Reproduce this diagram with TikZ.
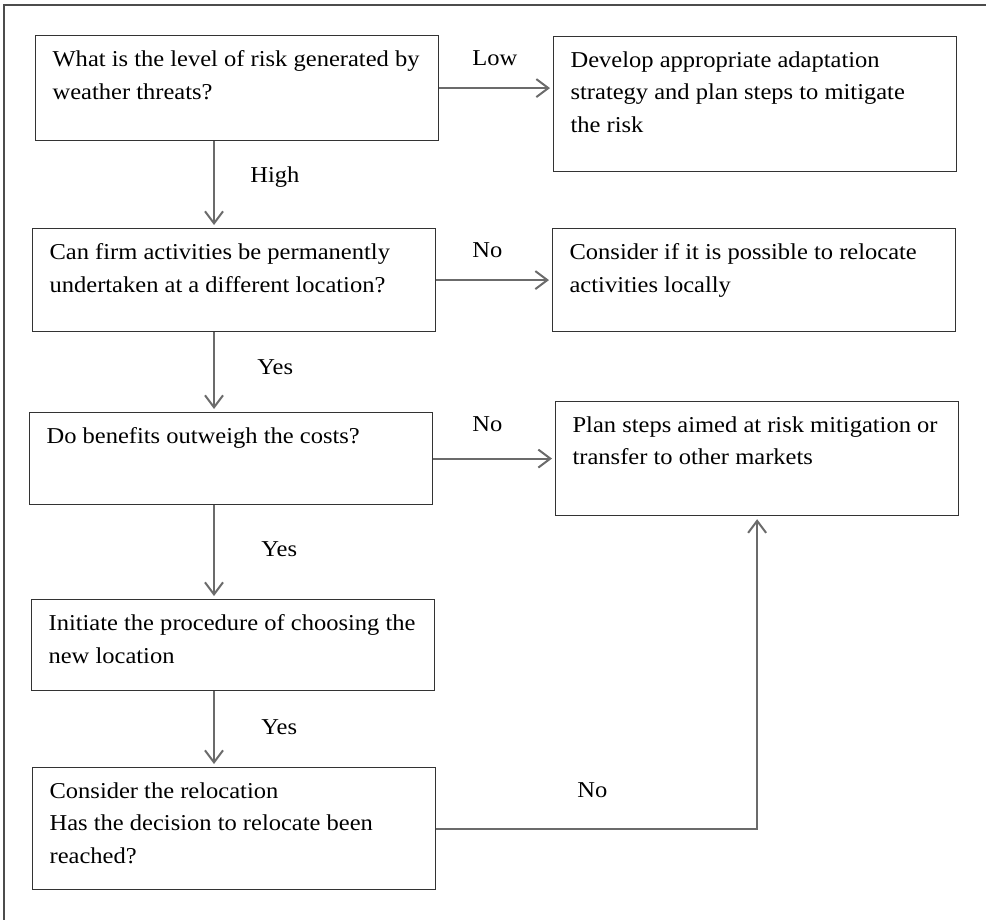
\documentclass[tikz,border=0pt]{standalone}
\usepackage{fontspec}
\setmainfont[FakeStretch=1.08]{Liberation Serif}
\usetikzlibrary{arrows.meta}
\newcommand{\boxtext}[2]{\parbox[c][#1][t]{184.5pt}{\raggedright #2}}

\begin{document}
\begin{tikzpicture}[
		x=0.5pt, y=-0.5pt,
		every node/.style={font=\fontsize{11.35}{16.25}\selectfont},
		stage/.style={draw=black!80, line width=0.6pt, anchor=north west, inner xsep=8.5pt, inner ysep=7.5pt},
		answer/.style={anchor=base west, inner sep=0pt},
		flow/.style={draw=black!58, line width=1pt, -{Straight Barb[length=6pt,width=9pt]}, shorten >=1.5pt},
		frame/.style={draw=black!70, line width=0.6pt},
		]
		\useasboundingbox (0,0) rectangle (986,920);
		\draw [frame] (4,920) -- (4,5) -- (986,5);
		\coordinate (spine) at (214,0);

		\node [stage] (risk) at (35,35) {\boxtext{37.5pt}{What is the level of risk generated by\\weather threats?}};
		\node [stage] (adapt) at (553,36) {\boxtext{52.5pt}{Develop appropriate adaptation\\strategy and plan steps to mitigate\\the risk}};
		\node [stage] (firm) at (32,228) {\boxtext{36.5pt}{Can firm activities be permanently\\undertaken at a different location?}};
		\node [stage] (local) at (552,228) {\boxtext{36.5pt}{Consider if it is possible to relocate\\activities locally}};
		\node [stage] (benefit) at (29,412) {\boxtext{31pt}{Do benefits outweigh the costs?}};
		\node [stage] (mitig) at (555,401) {\boxtext{42pt}{Plan steps aimed at risk mitigation or\\transfer to other markets}};
		\node [stage] (initiate) at (31,599) {\boxtext{30.5pt}{Initiate the procedure of choosing the\\new location}};
		\node [stage] (decide) at (32,767) {\boxtext{46pt}{Consider the relocation\\Has the decision to relocate been\\reached?}};

		\node [answer] (low) at (472,65.5) {Low};
		\node [answer] (high) at (250,182.5) {High};
		\node [answer] (no firm) at (472,257.5) {No};
		\node [answer] (yes firm) at (257,374.5) {Yes};
		\node [answer] (no benefit) at (472,431.5) {No};
		\node [answer] (yes benefit) at (261,556) {Yes};
		\node [answer] (yes initiate) at (261,734) {Yes};
		\node [answer] (no decide) at (577,797.5) {No};

		\draw [flow] (risk.east) -- (risk.east -| adapt.west);
		\draw [flow] (risk.south -| spine) -- (firm.north -| spine);
		\draw [flow] (firm.east) -- (firm.east -| local.west);
		\draw [flow] (firm.south -| spine) -- (benefit.north -| spine);
		\draw [flow] (benefit.east) -- (benefit.east -| mitig.west);
		\draw [flow] (benefit.south -| spine) -- (initiate.north -| spine);
		\draw [flow] (initiate.south -| spine) -- (decide.north -| spine);
		\draw [flow] (decide.east) -| (mitig.south);
	\end{tikzpicture}
\end{document}
